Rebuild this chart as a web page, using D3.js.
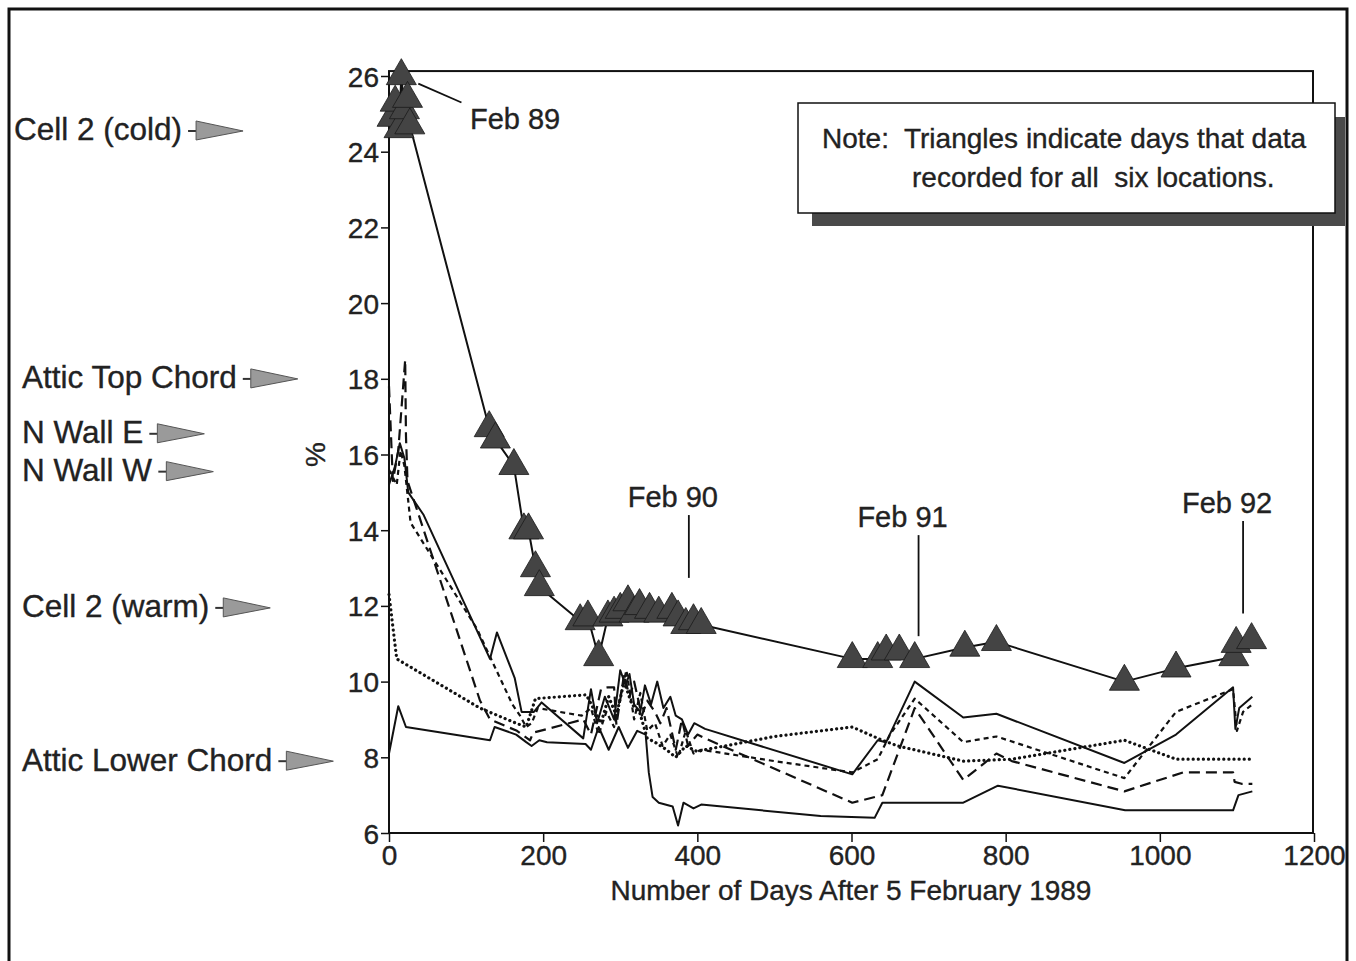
<!DOCTYPE html>
<html>
<head>
<meta charset="utf-8">
<script src="https://cdn.jsdelivr.net/npm/d3@7/dist/d3.min.js"></script>
<style>
  body { margin: 0; background: #fff; }
  svg { display: block; font-family: "Liberation Sans", Arial, sans-serif; }
  text { white-space: pre; }
</style>
</head>
<body>
<svg id="chart" width="1356" height="961"></svg>
<script>
// axis ticks
var xTicks = [0, 200, 400, 600, 800, 1000, 1200];
var yTicks = [6, 8, 10, 12, 14, 16, 18, 20, 22, 24, 26];

// Cell 2 (cold) - the triangle series
var coldDays = [4, 8, 13, 16, 20, 24, 27, 130, 138, 162, 175, 181, 190, 195, 248, 258, 272, 284, 292, 300, 310, 318, 325, 338, 350, 367, 375, 385, 395, 405, 601, 634, 645, 662, 682, 747, 788, 954, 1021, 1096, 1099, 1119];
var coldVals = [24.9, 25.3, 24.6, 26.0, 25.1, 25.4, 24.7, 16.7, 16.4, 15.7, 14.0, 14.0, 13.0, 12.5, 11.6, 11.7, 10.65, 11.7, 11.8, 11.9, 12.1, 11.8, 12.0, 11.9, 11.8, 11.9, 11.7, 11.5, 11.6, 11.5, 10.6, 10.6, 10.8, 10.8, 10.6, 10.9, 11.05, 10.0, 10.35, 10.65, 11.0, 11.1];

// Attic Top Chord - long dash
var topDays = [0, 5, 12, 21, 22, 24, 118, 131, 166, 183, 187, 252, 262, 275, 284, 292, 295, 305, 312, 318, 328, 335, 345, 352, 360, 372, 380, 388, 400, 410, 601, 640, 682, 745, 788, 808, 954, 1030, 1095, 1097, 1106, 1120];
var topVals = [17.8, 15.3, 16.1, 18.5, 16.5, 15.3, 9.5, 9.0, 8.7, 8.45, 8.65, 9.0, 8.6, 9.8, 9.85, 9.85, 8.85, 10.2, 9.6, 10.0, 9.1, 9.5, 9.2, 8.9, 9.3, 8.2, 9.0, 8.3, 8.6, 8.5, 6.8, 7.0, 9.3, 7.4, 8.1, 7.9, 7.1, 7.6, 7.6, 7.35, 7.3, 7.3];

// N Wall E - solid
var wallEDays = [0, 8, 14, 20, 25, 45, 131, 140, 163, 172, 188, 198, 252, 262, 270, 280, 292, 300, 307, 312, 318, 326, 332, 340, 348, 356, 365, 372, 380, 388, 396, 410, 601, 634, 645, 682, 745, 788, 954, 1021, 1095, 1098, 1103, 1120];
var wallEVals = [15.2, 15.7, 16.3, 15.9, 15.0, 14.4, 10.6, 11.3, 10.1, 9.2, 9.2, 9.45, 8.5, 9.8, 8.9, 9.6, 9.0, 10.3, 9.9, 10.2, 9.4, 9.2, 9.9, 9.4, 10.0, 9.3, 9.6, 9.1, 9.0, 8.6, 8.9, 8.75, 7.55, 8.45, 8.4, 10.0, 9.05, 9.15, 7.85, 8.6, 9.85, 8.75, 9.3, 9.6];

// N Wall W - short dash
var wallWDays = [0, 10, 15, 20, 28, 114, 160, 170, 178, 185, 193, 250, 262, 272, 282, 292, 300, 308, 318, 326, 335, 345, 355, 365, 375, 385, 395, 405, 500, 601, 634, 650, 682, 745, 788, 954, 1021, 1095, 1100, 1108, 1120];
var wallWVals = [15.6, 15.2, 16.1, 15.7, 14.2, 11.4, 9.4, 9.1, 8.8, 8.9, 9.3, 9.1, 9.3, 8.6, 9.2, 8.8, 9.6, 10.3, 9.0, 9.7, 8.7, 8.9, 8.3, 8.6, 8.0, 8.7, 8.1, 8.2, 7.9, 7.6, 7.95, 8.6, 9.55, 8.4, 8.55, 7.45, 9.2, 9.8, 8.7, 9.2, 9.4];

// Cell 2 (warm) - dotted
var warmDays = [0, 10, 118, 165, 178, 190, 256, 265, 275, 285, 295, 305, 315, 325, 335, 345, 360, 372, 385, 400, 410, 500, 601, 640, 660, 745, 808, 954, 1021, 1120];
var warmVals = [12.3, 10.6, 9.3, 8.9, 8.8, 9.55, 9.65, 9.3, 8.9, 9.6, 9.1, 10.0, 9.4, 9.2, 8.5, 8.4, 8.2, 8.0, 8.3, 8.15, 8.2, 8.55, 8.8, 8.45, 8.3, 7.9, 7.95, 8.45, 7.95, 7.95];

// Attic Lower Chord - solid
var lowerDays = [0, 12, 22, 131, 137, 165, 178, 185, 195, 205, 255, 262, 272, 285, 298, 310, 322, 333, 337, 342, 350, 368, 375, 382, 395, 405, 560, 630, 640, 745, 790, 955, 1095, 1102, 1120];
var lowerVals = [8.1, 9.35, 8.8, 8.45, 8.8, 8.6, 8.4, 8.3, 8.45, 8.4, 8.35, 8.2, 8.8, 8.2, 8.8, 8.25, 8.7, 8.6, 7.6, 6.95, 6.8, 6.7, 6.2, 6.8, 6.65, 6.75, 6.45, 6.4, 6.8, 6.8, 7.25, 6.6, 6.6, 7.0, 7.1];

// labels on the left, at the start value of each location
var locationNames = ["Cell 2 (cold)", "Attic Top Chord", "N Wall E", "N Wall W", "Cell 2 (warm)", "Attic Lower Chord"];
var locationVals = [24.6, 18.05, 16.6, 15.6, 12.0, 7.95];

// Feb markers
var febNames = ["Feb 90", "Feb 91", "Feb 92"];
var febDays = [389, 687, 1108];
var febTextVals = [14.6, 14.08, 14.45];
var febTopVals = [14.4, 13.87, 14.24];
var febBottomVals = [12.74, 11.2, 11.8];

var noteLines = ["Note:  Triangles indicate days that data", "recorded for all  six locations."];

var svg = d3.select("#chart");

var x = d3.scaleLinear().domain([0, 1200]).range([389, 1314]);
var y = d3.scaleLinear().domain([6, 26]).range([833, 76]);

function zip(days, vals) {
    return days.map(function(d, i) { return {x: d, y: vals[i]}; });
}

function ink(sel, size) {
    // scanned text looks a bit heavy
    return sel.attr("fill", "#222")
        .attr("stroke", "#222")
        .attr("stroke-width", 0.35)
        .style("font-size", size + "px");
}

// outer border of the figure
svg.append("rect")
    .attr("x", 9).attr("y", 9)
    .attr("width", 1338).attr("height", 970)
    .attr("fill", "none")
    .attr("stroke", "#111")
    .attr("stroke-width", 3);

// plot frame
svg.append("rect")
    .attr("x", x(0)).attr("y", y(26.13))
    .attr("width", x(1200) - x(0) - 1)
    .attr("height", y(6) - y(26.13))
    .attr("fill", "none")
    .attr("stroke", "#111")
    .attr("stroke-width", 2);

// axes
var yAxis = svg.append("g")
    .attr("transform", "translate(" + x(0) + ",0)")
    .call(d3.axisLeft(y).tickValues(yTicks).tickSize(8).tickPadding(2));
var xAxis = svg.append("g")
    .attr("transform", "translate(0," + y(6) + ")")
    .call(d3.axisBottom(x).tickValues(xTicks).tickFormat(d3.format("d")).tickSize(9).tickPadding(3));
[xAxis, yAxis].forEach(function(g) {
    g.select(".domain").remove();
    g.selectAll("line").attr("stroke", "#111").attr("stroke-width", 1.5);
    ink(g.selectAll("text"), 28)
        .style("font-family", "'Liberation Sans', Arial, sans-serif");
});
yAxis.selectAll("text").attr("dy", "0.36em");

// axis titles
ink(svg.append("text"), 28)
    .attr("x", 851).attr("y", 900)
    .attr("text-anchor", "middle")
    .text("Number of Days After 5 February 1989");

ink(svg.append("text"), 28)
    .attr("transform", "translate(325," + y(16) + ") rotate(-90)")
    .attr("text-anchor", "middle")
    .text("%");

// lines
var line = d3.line()
    .x(function(d) { return x(d.x); })
    .y(function(d) { return y(d.y); });

var series = [
    {data: zip(lowerDays, lowerVals), dash: null, width: 2, cap: "butt"},
    {data: zip(warmDays, warmVals), dash: "0.1,5", width: 3.2, cap: "round"},
    {data: zip(wallWDays, wallWVals), dash: "5,4", width: 2.2, cap: "butt"},
    {data: zip(topDays, topVals), dash: "11,6", width: 2.2, cap: "butt"},
    {data: zip(wallEDays, wallEVals), dash: null, width: 2, cap: "butt"},
    {data: zip(coldDays, coldVals), dash: null, width: 2, cap: "butt"}
];

series.forEach(function(s) {
    svg.append("path")
        .attr("d", line(s.data))
        .attr("fill", "none")
        .attr("stroke", "#111")
        .attr("stroke-width", s.width)
        .attr("stroke-linejoin", "round")
        .attr("stroke-linecap", s.cap)
        .attr("stroke-dasharray", s.dash);
});

// triangles for days with all six locations
svg.selectAll(".tri")
    .data(zip(coldDays, coldVals))
    .enter().append("path")
    .attr("class", "tri")
    .attr("transform", function(d) { return "translate(" + x(d.x) + "," + y(d.y) + ")"; })
    .attr("d", d3.symbol(d3.symbolTriangle, 390))
    .attr("fill", "#444")
    .attr("stroke", "#1a1a1a")
    .attr("stroke-width", 0.8);

// Feb 89 pointer
svg.append("line")
    .attr("x1", x(38)).attr("y1", y(25.8))
    .attr("x2", x(94)).attr("y2", y(25.3))
    .attr("stroke", "#111").attr("stroke-width", 1.8);
ink(svg.append("text"), 29)
    .attr("x", x(105)).attr("y", y(24.6))
    .text("Feb 89");

// other Feb markers
febNames.forEach(function(name, i) {
    svg.append("line")
        .attr("x1", x(febDays[i])).attr("x2", x(febDays[i]))
        .attr("y1", y(febTopVals[i])).attr("y2", y(febBottomVals[i]))
        .attr("stroke", "#111").attr("stroke-width", 1.8);
    ink(svg.append("text"), 29)
        .attr("x", x(febDays[i]) - 16).attr("y", y(febTextVals[i]))
        .attr("text-anchor", "middle")
        .text(name);
});

// note box with shadow
svg.append("rect")
    .attr("x", 812).attr("y", 117)
    .attr("width", 533).attr("height", 109)
    .attr("fill", "#4a4a4a");
svg.append("rect")
    .attr("x", 798).attr("y", 103)
    .attr("width", 537).attr("height", 110)
    .attr("fill", "#fff")
    .attr("stroke", "#111")
    .attr("stroke-width", 1.5);
ink(svg.append("text"), 28)
    .attr("x", 822).attr("y", 148)
    .text(noteLines[0]);
ink(svg.append("text"), 28)
    .attr("x", 912).attr("y", 187)
    .text(noteLines[1]);

// location labels with grey arrows
locationNames.forEach(function(name, i) {
    var cy = y(locationVals[i]);
    var t = ink(svg.append("text"), 31.5)
        .attr("x", i === 0 ? 14 : 22).attr("y", cy)
        .attr("dy", "0.36em")
        .text(name);
    var box = t.node().getBBox();
    var end = box.x + box.width;
    svg.append("line")
        .attr("x1", end + 6).attr("x2", end + 14)
        .attr("y1", cy + 2).attr("y2", cy + 2)
        .attr("stroke", "#333").attr("stroke-width", 2);
    var tx = end + 14;
    svg.append("path")
        .attr("d", d3.line()([[tx, cy - 8], [tx + 47, cy + 2], [tx, cy + 11]]) + "Z")
        .attr("fill", "#9a9a9a")
        .attr("stroke", "#555")
        .attr("stroke-width", 1);
});
</script>
</body>
</html>
